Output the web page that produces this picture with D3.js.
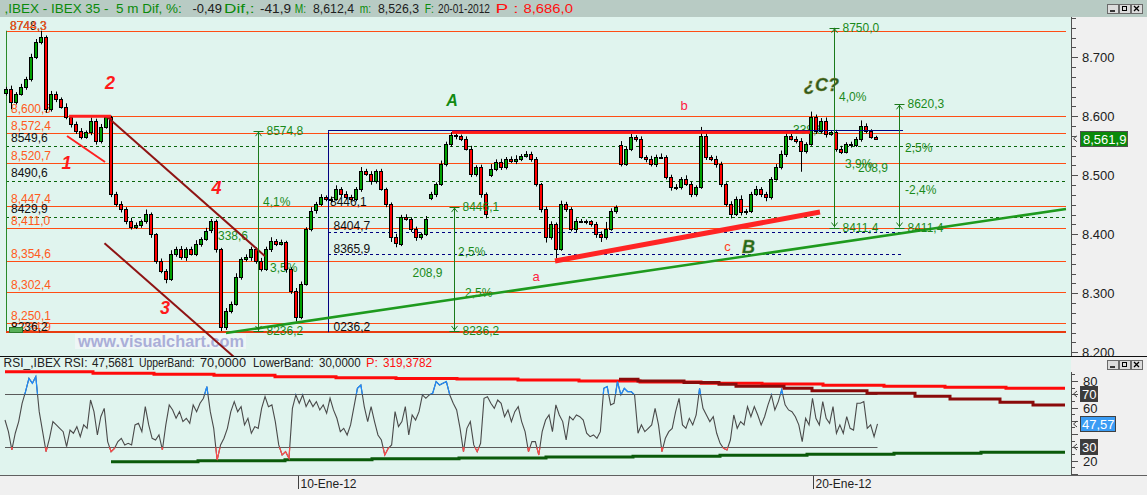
<!DOCTYPE html>
<html><head><meta charset="utf-8">
<script src="https://cdn.jsdelivr.net/npm/d3@7/dist/d3.min.js"></script>
<style>html,body{margin:0;padding:0;background:#f0f0f0;}svg{display:block;}text{font-family:"Liberation Sans",Arial,sans-serif;white-space:pre;}</style>
</head><body>
<svg id="chart" width="1147" height="495"></svg>
<script>
// ---------------- DATA ----------------
const candleCloses = [
8646,8624,8638,8650,8663,8700,8726,8734,8612,8638,8629,8616,8599,8587,8575,8565,8573,8592,8558,8582,8599,8468,8451,8443,8422,
8412,8416,8422,8434,8400,8355,8338,8324,8367,8375,8361,8375,8367,8384,8392,8406,8422,8375,8243,8270,8282,8328,8358,8361,8375,
8355,8341,8375,8389,8384,8387,8341,8304,8260,8316,8409,8440,8451,8463,8460,8460,8477,8468,8463,8460,8477,8507,8502,8490,8507,
8477,8451,8395,8384,8429,8426,8409,8395,8400,8426,8468,8485,8519,8553,8568,8567,8562,8545,8502,8514,8468,8434,8511,8523,8514,
8528,8524,8528,8533,8536,8528,8485,8443,8395,8417,8375,8451,8443,8409,8422,8422,8422,8417,8400,8395,8409,8440,8446,8519,8545,
8565,8562,8531,8528,8519,8531,8531,8497,8480,8480,8494,8485,8468,8480,8567,8531,8528,8519,8485,8451,8434,8460,8438,8440,8468,
8477,8468,8463,8494,8514,8536,8567,8562,8558,8541,8553,8599,8575,8592,8570,8573,8545,8540,8553,8551,8562,8584,8575,8565,8561.9];
const gapOpens = {0:8640, 85:8462, 97:8500, 123:8552};
const wickUp = [
4,6,3,5,4,6,5,11,3,5,4,3,6,2,4,5,3,6,4,5,3,2,4,5,3,
6,4,3,8,3,2,4,3,6,4,5,3,4,6,3,5,4,3,2,5,4,6,3,5,4,
3,5,4,6,3,4,2,3,5,4,3,6,4,5,3,4,6,3,5,4,3,7,4,5,3,
4,2,3,6,4,5,3,4,3,5,4,3,6,4,5,3,2,4,5,3,4,3,8,4,5,
3,4,6,3,5,4,3,2,4,5,3,6,4,3,5,4,3,2,4,5,12,4,3,6,4,
5,3,4,3,5,4,6,3,4,5,3,6,4,3,15,4,3,5,4,3,5,4,6,3,4,
5,3,4,3,5,6,4,3,4,5,3,9,4,5,6,3,4,5,3,4,3,9,4,3,2];
const wickDn = [
5,12,4,3,5,4,3,4,6,4,5,3,4,6,5,4,3,5,6,4,3,5,4,6,5,
4,3,5,4,6,5,4,7,3,5,4,6,3,4,5,3,4,6,7,5,4,3,5,4,6,
5,4,3,5,4,3,6,5,8,4,3,4,5,3,4,6,3,5,4,3,4,5,3,6,4,
3,5,8,6,4,3,5,6,4,3,4,5,3,4,5,6,4,3,5,4,6,7,3,4,5,
4,3,5,4,3,5,4,6,9,4,16,3,5,4,6,3,5,4,6,8,4,3,5,4,3,
4,5,3,6,4,5,3,4,6,5,4,3,5,4,3,5,4,6,5,4,7,3,6,5,4,
3,5,7,4,3,4,5,3,4,35,4,3,5,4,6,3,5,4,3,4,3,5,4,3,2];
const rsiValues = [50.6,41.8,28,40.6,49.4,63.2,72,82,78.3,83.3,56.9,41.8,26.7,36.8,49.4,46.9,44.3,41.8,30.5,43,40.6,45.6,38,46.9,44.3,65.7,56.9,39.3,53.1,59.4,34.3,26.7,29.2,34.3,36.8,31.8,33,31.8,46.9,48.1,41.8,60.7,46.9,36.8,35.5,39.3,28,46.9,62,58.2,51.9,56.9,49.4,51.9,48.1,62,56.9,63.2,67,75.8,56.9,44.3,20.4,31.8,36.8,44.3,56.9,64.5,56.9,60.7,46.9,51.9,40.6,45.6,44.3,59.4,68.2,60.7,62,49.4,31.8,24.2,26.7,21.7,59.4,69.5,63.2,69.5,60.7,65.7,60.7,64.5,58.2,62,55.7,67,58.2,51.9,41.8,44.3,39.3,46.9,60.7,74.5,77,60.7,49.4,60.7,49.4,39.3,35.5,24.2,29.2,31.8,56.9,45.6,49.4,60.7,39.3,54.4,50.6,56.9,69.5,67,69.5,70.8,79.6,77,78.3,79.6,69.5,63.2,58.2,44.3,26.7,44.3,49.4,31.8,26.7,33,67,68.2,63.2,59.4,65.7,63.2,53.1,58.2,49.4,56.9,60.7,49.4,41.8,26.7,34.3,34.3,
24.2,41.8,50.6,54.4,41.8,62,54.4,49.4,35.5,53.1,50.6,54.4,53.1,50.6,40.6,38,39.3,36.8,41.8,74.5,75.8,62,63.2,79.6,69.5,74.5,72,72,69.5,40.6,46.9,41.8,44.3,46.9,59.4,46.9,26.7,36.8,41.8,44.3,56.9,67,46.9,44.3,51.9,46.9,54.4,74.5,59.4,54.4,49.4,53.1,40.6,33,29.2,28,35.5,54.4,44.3,49.4,46.9,60.7,53.1,60.7,54.4,46.9,53.1,62,69.5,58.2,64.5,73.3,62,58.2,56.9,53.1,46.9,34.3,51.9,46.9,67,51.9,46.9,64.5,51.9,48.1,60.7,40.6,46.9,40.6,53.1,44.3,43,63.2,63.2,64.5,44.3,46.9,38,47.6];
const rsiUpperBand = [[-0.2,87.1],[17.4,85.8],[29.6,85.1],[41.6,84.3],[53.8,83.2],[66,82.5],[78,82.0],[90.2,81.5],[102.4,80.8],[114.6,80.0],[126.8,79.2],[139,78.4],[151.2,77.7],[163.4,76.9],[175.6,76.1],[187.8,75.4],[200,74.6],[211.8,74.6]];
const rsiMidBand = [[122.6,81.3],[126.4,80.0],[135.6,79.0],[142.6,77.6],[146,76.1],[155.6,74.5],[161.2,72.6],[172.2,70.7],[181.8,68.5],[188.8,66.4],[198.8,64.0],[205.4,62.0],[211.8,62.0]];
const rsiLowerBand = [[21,19.1],[38.4,19.9],[55.8,20.6],[73.2,21.4],[90.6,21.9],[108,22.6],[125.4,23.3],[142.8,24.0],[160.2,24.8],[177.6,25.5],[195,26.2],[211.8,26.2]];
const orangeLevels = [8745, 8600.5, 8572.4, 8520.7, 8447.4, 8411.0, 8354.6, 8302.4, 8250.1];
const orangeLabelLevels = [8600.5, 8572.4, 8520.7, 8447.4, 8411.0, 8354.6, 8302.4, 8250.1];
const bottomLevel = 8236.2;
const greenDashLevels = [8549.6, 8490.6, 8429.9];
const navyDashLevels = [8404.7, 8365.9];
const priceTickLabels = [8200, 8300, 8400, 8500, 8600, 8700];
const rsiTickLabels = [20, 40, 60, 80];
const lastPrice = 8561.9, lastRsi = 47.57;
const measures = [
  {t:50.4, top:8574.8, bot:8236.2},
  {t:89.5, top:8446.1, bot:8236.2},
  {t:165.5, top:8750.0, bot:8411.4},
  {t:178.7, top:8620.3, bot:8411.4}];
const greenNotes = [["4,1%",51.4,8448.5],["3,5%",52.8,8335.6],["338,6",42.4,8390.3],["2,5%",90.4,8362.7],["208,9",81.3,8327.1],["2,5%",91.8,8293.2],["4,0%",166.6,8626.4],["3,9%",167.8,8512.4],["2,5%",179.8,8539],["208,9",170.4,8505.1],["-2,4%",179.8,8468.3],["338,6",157.4,8570]];
const blackNotes = [["8446,1",64.8,8448.5],["8404,7",65.5,8407.3],["8365,9",65.5,8368.3],["0236,2",65.5,8236.6]];
const waveLabels = [["1",12.1,8520.3],["2",20.8,8655.9],["3",31.8,8274.6],["4",42.1,8478]];
const bigLetters = [["A",89.2,8626],["B",148.5,8378],["¿C?",163.1,8653]];
const smallLetters = [["a",106,8328],["b",135.6,8617.5],["c",144.3,8379]];
const channelUpper = [[20.1,8600],[51.8,8363]];
const channelLower = [[19.7,8385],[45.6,8192]];
const wave1Line = [[12.2,8566.6],[19.8,8522.5]];
const wave2Line = [[12.6,8600],[21,8600]];
const supportLine = [[44,8232.7],[212,8442.9]];
const abcLine = [[109.8,8354.7],[162.8,8437.8]];
const boxRange = {left:64.4, right:179.4, top:8574.8, bottom:8234};
const resistance = {from:89.2, to:160.8, level:8574.8};
const dateTicks = [["10-Ene-12",58.3],["20-Ene-12",161.3]];

// ---------------- SCALES ----------------
const xT = d3.scaleLinear().domain([0,174]).range([6,876]);
const yP = d3.scaleLinear().domain([8200,8700]).range([352.3,57.3]);
const yR = d3.scaleLinear().domain([30,70]).range([447.3,394.3]);
const xR = d3.scaleLinear().domain([0,rsiValues.length-1]).range([xT(-0.2), xT(174.3)]);
const px = v => Math.round(v)+0.5;
const fmtO = v => { const s=v.toFixed(1).split('.'); return s[0].replace(/\B(?=(\d{3})+(?!\d))/g, ',')+','+s[1]; };
const fmtB = v => v.toFixed(1).replace('.', ',');

const svg = d3.select('#chart');
const defs = svg.append('defs');
defs.append('clipPath').attr('id','cpPrice').append('rect').attr('x',0).attr('y',17).attr('width',1071).attr('height',339);
defs.append('clipPath').attr('id','cpRsi').append('rect').attr('x',0).attr('y',357).attr('width',1071).attr('height',118);
defs.append('clipPath').attr('id','cpHi').append('rect').attr('x',0).attr('y',357).attr('width',1071).attr('height',yR(70)-357);
defs.append('clipPath').attr('id','cpLo').append('rect').attr('x',0).attr('y',yR(30)).attr('width',1071).attr('height',475-yR(30));
defs.append('clipPath').attr('id','cpAxis').append('rect').attr('x',1071).attr('y',17).attr('width',76).attr('height',339);

// backgrounds
svg.append('rect').attr('width',1147).attr('height',495).attr('fill','#f0f0f0');
svg.append('rect').attr('x',0).attr('y',0).attr('width',1147).attr('height',17).attr('fill','#b8cbc4');
svg.append('rect').attr('x',0).attr('y',17).attr('width',1071).attr('height',339).attr('fill','#e0f4ee');
svg.append('rect').attr('x',0).attr('y',357).attr('width',1071).attr('height',118).attr('fill','#e0f4ee');
svg.append('line').attr('x1',0).attr('x2',1147).attr('y1',356.5).attr('y2',356.5).attr('stroke','#101010');
svg.append('line').attr('x1',0).attr('x2',1147).attr('y1',475.5).attr('y2',475.5).attr('stroke','#606060');

// segmented text helper: [text, colour, x0, x1]
function segText(parent, segs, y){
  segs.forEach(s=>parent.append('text').attr('x',s[2]).attr('y',y).attr('font-size',12).attr('fill',s[1])
    .attr('textLength',s[3]-s[2]).attr('lengthAdjust','spacingAndGlyphs').text(s[0]));
}
segText(svg, [[",IBEX - IBEX 35 -  5 m Dif, %:","#0a8a0a",4.6,181.8],["-0,49","#202020",192.5,222],["Dif,:","#0a8a0a",224,254.5],["-41,9","#202020",260,291],["M:","#0a8a0a",294.7,306],["8,612,4","#202020",313,354],["m:","#0a8a0a",359.7,371],["8,526,3","#202020",378,419],["F:","#0a8a0a",424.8,434],["20-01-2012","#202020",438,490],["P :","#ff1010",495.6,518.5],["8,686,0","#ff1010",523.5,573]], 13);

function buttons(y){
  [1107,1119,1131].forEach((x,k)=>{
    svg.append('rect').attr('x',x+.5).attr('y',y+.5).attr('width',11).attr('height',9).attr('fill','#dcdcdc').attr('stroke','#6a6a6a');
    if(k===0) svg.append('line').attr('x1',x+3).attr('x2',x+8).attr('y1',y+7).attr('y2',y+7).attr('stroke','#000').attr('stroke-width',1.5);
    if(k===1) svg.append('rect').attr('x',x+3.5).attr('y',y+2.5).attr('width',4).attr('height',4).attr('fill','none').attr('stroke','#000');
    if(k===2){ svg.append('path').attr('d',`M${x+3},${y+2}L${x+8},${y+7}M${x+8},${y+2}L${x+3},${y+7}`).attr('stroke','#000').attr('stroke-width',1.3); }
  });
}
buttons(4); buttons(360);

// ---------------- PRICE PANEL ----------------
const P = svg.append('g').attr('clip-path','url(#cpPrice)');
orangeLevels.forEach(v=>P.append('line').attr('x1',6).attr('x2',1066).attr('y1',px(yP(v))).attr('y2',px(yP(v))).attr('stroke','#ff4d14'));
P.append('line').attr('x1',6).attr('x2',1066).attr('y1',yP(bottomLevel)+1).attr('y2',yP(bottomLevel)+1).attr('stroke','#e83c10').attr('stroke-width',2);
greenDashLevels.forEach(v=>P.append('line').attr('x1',6).attr('x2',1066).attr('y1',px(yP(v))).attr('y2',px(yP(v))).attr('stroke','#0a640a').attr('stroke-dasharray','3,3'));
navyDashLevels.forEach(v=>P.append('line').attr('x1',xT(boxRange.left)).attr('x2',xT(boxRange.right)).attr('y1',px(yP(v))).attr('y2',px(yP(v))).attr('stroke','#000080').attr('stroke-dasharray','3,3'));
P.append('line').attr('x1',6.5).attr('x2',6.5).attr('y1',yP(8745)).attr('y2',yP(8236)).attr('stroke','#2a8a2a');

// left labels
const lbl = (t,x,y,c)=>P.append('text').attr('x',x).attr('y',y).attr('font-size',12).attr('fill',c).text(t);
orangeLabelLevels.forEach(v=>lbl(fmtO(v),11,yP(v)-3,'#ff5a20'));
greenDashLevels.forEach(v=>lbl(fmtB(v),11,yP(v)-4,'#101010'));
lbl('8748,3',10,30,'#101010'); lbl('8744,3',10,30,'#ff5a20');
lbl('8,234,9',11,331,'#ff5a20'); lbl('8236,2',11,331,'#101010');
P.append('rect').attr('x',9.5).attr('y',327.5).attr('width',13).attr('height',5).attr('fill','#58b058').attr('stroke','#2a7a2a');

// notes under candles
greenNotes.forEach(n=>P.append('text').attr('x',xT(n[1])).attr('y',yP(n[2])).attr('font-size',12).attr('fill','#1a8a1a').text(n[0]));
blackNotes.forEach(n=>P.append('text').attr('x',xT(n[1])).attr('y',yP(n[2])).attr('font-size',12).attr('fill','#101010').text(n[0]));

// watermark
P.append('rect').attr('x',75).attr('y',334).attr('width',171).attr('height',15).attr('fill','#eef6f6');
P.append('text').attr('x',78).attr('y',347).attr('font-size',17).attr('font-weight','bold').attr('fill','#aaaed8').attr('textLength',166).attr('lengthAdjust','spacingAndGlyphs').text('www.visualchart.com');

// candles
const candles = candleCloses.map((c,i)=>{
  const o = gapOpens[i]!==undefined ? gapOpens[i] : candleCloses[i-1];
  return {i, o, c, h:Math.max(o,c)+wickUp[i], l:Math.min(o,c)-wickDn[i]};
});
const cg = P.append('g');
cg.selectAll('line.w').data(candles).join('line').attr('class','w')
  .attr('x1',d=>px(xT(d.i))).attr('x2',d=>px(xT(d.i))).attr('y1',d=>yP(d.h)).attr('y2',d=>yP(d.l)).attr('stroke','#000');
cg.selectAll('rect.b').data(candles).join('rect').attr('class','b')
  .attr('x',d=>Math.round(xT(d.i))-1.5).attr('width',3)
  .attr('y',d=>Math.round(yP(Math.max(d.o,d.c)))+0.5)
  .attr('height',d=>Math.max(1,Math.round(Math.abs(yP(d.o)-yP(d.c)))))
  .attr('fill',d=>d.c>=d.o?'#00a000':'#ff0000').attr('stroke','#000').attr('stroke-width',1);

// box & resistance
P.append('line').attr('x1',xT(boxRange.left)).attr('x2',xT(boxRange.right)).attr('y1',px(yP(boxRange.top))-1).attr('y2',px(yP(boxRange.top))-1).attr('stroke','#000080').attr('stroke-width',1.2);
P.append('line').attr('x1',px(xT(boxRange.left))).attr('x2',px(xT(boxRange.left))).attr('y1',yP(boxRange.top)).attr('y2',yP(boxRange.bottom)).attr('stroke','#000080');
P.append('line').attr('x1',xT(resistance.from)).attr('x2',xT(resistance.to)).attr('y1',yP(resistance.level)+1).attr('y2',yP(resistance.level)+1).attr('stroke','#ff1a1a').attr('stroke-width',3);

const seg = (pts,color,w)=>P.append('line').attr('x1',xT(pts[0][0])).attr('y1',yP(pts[0][1])).attr('x2',xT(pts[1][0])).attr('y2',yP(pts[1][1])).attr('stroke',color).attr('stroke-width',w);
seg(channelUpper,'#8e1414',2); seg(channelLower,'#8e1414',2);
seg(wave1Line,'#ff2020',2); seg(wave2Line,'#ff2020',3);
seg(supportLine,'#1e9a1e',2.5); seg(abcLine,'#ff2424',5);

// measurement arrows
measures.forEach(m=>{
  const x=px(xT(m.t)), y1=yP(m.top), y2=yP(m.bot), c='#1a7a1a';
  P.append('line').attr('x1',x).attr('x2',x).attr('y1',y1).attr('y2',y2).attr('stroke',c);
  P.append('line').attr('x1',x-5).attr('x2',x+5).attr('y1',px(y1)).attr('y2',px(y1)).attr('stroke',c);
  P.append('line').attr('x1',x-5).attr('x2',x+5).attr('y1',px(y2)).attr('y2',px(y2)).attr('stroke',c);
  P.append('path').attr('d',`M${x-3},${y1+5}L${x},${y1+1}L${x+3},${y1+5}`).attr('fill','none').attr('stroke',c);
  P.append('path').attr('d',`M${x-3},${y2-5}L${x},${y2-1}L${x+3},${y2-5}`).attr('fill','none').attr('stroke',c);
  P.append('text').attr('x',x+8).attr('y',y1+4).attr('font-size',12).attr('fill','#1a8a1a').text(fmtB(m.top));
  P.append('text').attr('x',x+8).attr('y',y2+4).attr('font-size',12).attr('fill','#1a8a1a').text(fmtB(m.bot));
});

// letters
waveLabels.forEach(l=>P.append('text').attr('x',xT(l[1])).attr('y',yP(l[2])).attr('text-anchor','middle').attr('dominant-baseline','central')
  .attr('font-family','Liberation Serif').attr('font-style','italic').attr('font-weight','bold').attr('font-size',18).attr('fill','#ff1a1a').text(l[0]));
const bigCol = {"A":"#128a12","B":"#1e6a1e","¿C?":"#2e5a1e"};
bigLetters.forEach(l=>P.append('text').attr('x',xT(l[1])).attr('y',yP(l[2])).attr('text-anchor','middle').attr('dominant-baseline','central')
  .attr('font-family','Liberation Serif').attr('font-style','italic').attr('font-weight','bold').attr('font-size',l[0]==='A'?16:18)
  .attr('fill',bigCol[l[0]]).attr('stroke',l[0]==='A'?'none':'#8a8a30').attr('stroke-width',0.4).text(l[0]));
smallLetters.forEach(l=>P.append('text').attr('x',xT(l[1])).attr('y',yP(l[2])).attr('text-anchor','middle').attr('dominant-baseline','central')
  .attr('font-size',13).attr('fill',l[0]==='c'?'#ff4020':'#ff2040').text(l[0]));

// price axis
svg.append('line').attr('x1',1071.5).attr('x2',1071.5).attr('y1',17).attr('y2',356).attr('stroke','#505050');
const A = svg.append('g').attr('clip-path','url(#cpAxis)');
d3.range(-1,36).forEach(k=>{
  const p = 8200 + k*100/6, y = px(yP(p));
  if(y<17||y>356) return;
  A.append('line').attr('x1',1071).attr('x2',k%6===0?1078:1076).attr('y1',y).attr('y2',y).attr('stroke','#505050');
});
priceTickLabels.forEach(v=>A.append('text').attr('x',1082).attr('y',yP(v)+5).attr('font-size',13).attr('fill','#202020').text(d3.format(',')(v).replace(',', '.')));
A.append('path').attr('d',`M1077,${yP(lastPrice)-3}L1073.5,${yP(lastPrice)}L1077,${yP(lastPrice)+3}`).attr('fill','none').attr('stroke','#404040');
A.append('rect').attr('x',1080.5).attr('y',Math.round(yP(lastPrice))-7.5).attr('width',47).attr('height',15).attr('fill','#0a8a0a').attr('stroke','#505050');
A.append('text').attr('x',1083).attr('y',yP(lastPrice)+5).attr('font-size',13).attr('fill','#ffffff').text(fmtO(lastPrice));

// ---------------- RSI PANEL ----------------
const R = svg.append('g').attr('clip-path','url(#cpRsi)');
segText(R, [["RSI_,IBEX RSI:","#202020",3.6,87.5],["47,5681","#202020",92,134],["UpperBand:","#202020",139,194.6],["70,0000","#202020",200,246],["LowerBand:","#202020",253,313.6],["30,0000","#202020",319,360.7],["P:","#ff1010",366,378],["319,3782","#ff1010",383,432]], 366.5);
[70,30].forEach(v=>R.append('line').attr('x1',5).attr('x2',xT(174.3)).attr('y1',px(yR(v))).attr('y2',px(yR(v))).attr('stroke','#5a5a5a'));
const bandLine = d3.line().x(d=>xT(d[0])).y(d=>yR(d[1])).curve(d3.curveStepAfter);
R.append('path').attr('d',bandLine(rsiUpperBand)).attr('fill','none').attr('stroke','#ff0a0a').attr('stroke-width',3);
R.append('path').attr('d',bandLine(rsiMidBand)).attr('fill','none').attr('stroke','#8a0a0a').attr('stroke-width',3);
R.append('path').attr('d',bandLine(rsiLowerBand)).attr('fill','none').attr('stroke','#0a5a0a').attr('stroke-width',3);
const rsiLine = d3.line().x((d,i)=>xR(i)).y(d=>yR(d));
R.append('path').attr('d',rsiLine(rsiValues)).attr('fill','none').attr('stroke','#4a4a4a').attr('stroke-width',1.1);
R.append('g').attr('clip-path','url(#cpHi)').append('path').attr('d',rsiLine(rsiValues)).attr('fill','none').attr('stroke','#1e8cff').attr('stroke-width',1.2);
R.append('g').attr('clip-path','url(#cpLo)').append('path').attr('d',rsiLine(rsiValues)).attr('fill','none').attr('stroke','#ff4a4a').attr('stroke-width',1.2);

// rsi axis
svg.append('line').attr('x1',1071.5).attr('x2',1071.5).attr('y1',372).attr('y2',475).attr('stroke','#505050');
d3.range(10,91,5).forEach(v=>{
  const y=px(yR(v)); if(y<372||y>475) return;
  svg.append('line').attr('x1',1071).attr('x2',v%10===0?1078:1075).attr('y1',y).attr('y2',y).attr('stroke','#505050');
});
const boxVals = [70, lastRsi, 30];
rsiTickLabels.filter(v=>boxVals.every(b=>Math.abs(yR(b)-yR(v))>13))
  .forEach(v=>svg.append('text').attr('x',1083).attr('y',yR(v)+5).attr('font-size',13).attr('fill','#202020').text(v));
function rsiBox(v,txt,w,fill){
  const y=Math.round(yR(v));
  svg.append('path').attr('d',`M1077,${y-3}L1073.5,${y}L1077,${y+3}`).attr('fill','none').attr('stroke','#404040');
  svg.append('rect').attr('x',1080.5).attr('y',y-7.5).attr('width',w).attr('height',15).attr('fill',fill).attr('stroke','#404040');
  svg.append('text').attr('x',1082).attr('y',y+5).attr('font-size',13).attr('fill','#ffffff').text(txt);
}
rsiBox(70,'70',17,'#3c3c3c'); rsiBox(lastRsi,'47,57',35,'#3a9cf4'); rsiBox(30,'30',17,'#3c3c3c');

// date axis
dateTicks.forEach(d=>{
  const x=px(xT(d[1]));
  svg.append('line').attr('x1',x).attr('x2',x).attr('y1',476).attr('y2',489).attr('stroke','#404040');
  svg.append('text').attr('x',x+2).attr('y',488).attr('font-size',12).attr('fill','#202020').text(d[0]);
});
</script>
</body></html>
